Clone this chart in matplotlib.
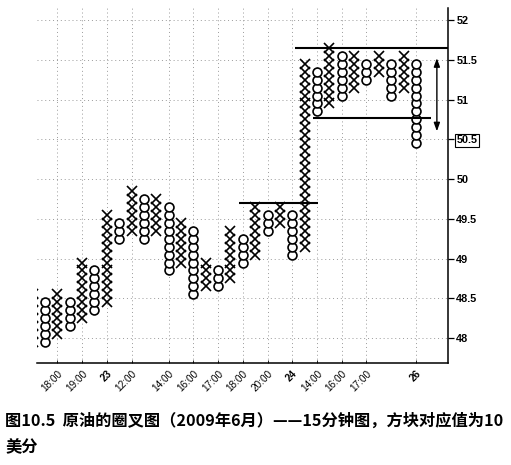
import numpy as np
import matplotlib
matplotlib.use("Agg")
import matplotlib.pyplot as plt

# ---- data (point & figure columns, box size 0.1) ----
col_types = ['X', 'O', 'X', 'O', 'X', 'O', 'X', 'O', 'X', 'O', 'X', 'O', 'X', 'O', 'X', 'O',
             'X', 'O', 'X', 'O', 'X', 'O', 'X', 'O', 'X', 'O', 'X', 'O', 'X', 'O', 'X', 'O']
col_low = [47.9, 47.9, 48.0, 48.1, 48.2, 48.3, 48.4, 49.2, 49.3, 49.2, 49.3, 48.8, 48.9, 48.5, 48.6, 48.6,
           48.7, 48.9, 49.0, 49.3, 49.4, 49.0, 49.1, 50.8, 50.9, 51.0, 51.1, 51.2, 51.3, 51.0, 51.1, 50.4]
col_high = [48.5, 48.4, 48.5, 48.4, 48.9, 48.8, 49.5, 49.4, 49.8, 49.7, 49.7, 49.6, 49.4, 49.3, 48.9, 48.8,
            49.3, 49.2, 49.6, 49.5, 49.6, 49.5, 51.4, 51.3, 51.6, 51.5, 51.5, 51.4, 51.5, 51.4, 51.5, 51.4]
box = 0.1
first_col = -1

tick_cols = [1, 3, 5, 7, 10, 12, 14, 16, 18, 20, 22, 24, 26, 30]
tick_labels = ['18:00', '19:00', '23', '12:00', '14:00', '16:00', '17:00', '18:00', '20:00',
               '24', '14:00', '16:00', '17:00', '26']
bold_labels = ['23', '24', '26']

y_ticks = [48, 48.5, 49, 49.5, 50, 50.5, 51, 51.5, 52]
y_labels = ['48', '48.5', '49', '49.5', '50', '50.5', '51', '51.5', '52']
boxed_label = '50.5'

# resistance / support lines: (price, x_start, x_end)
lines = [(51.65, 20.2, 32.6), (50.77, 21.65, 31.2), (49.70, 15.7, 22.06)]
arrow_x = 31.7
arrow_top, arrow_bottom = 51.52, 50.60

caption1 = "图10.5  原油的圈叉图（2009年6月）——15分钟图，方块对应值为10"
caption2 = "美分"

# ---- figure ----
W, H = 511, 465
fig = plt.figure(figsize=(W / 100, H / 100), dpi=100)
ax = fig.add_axes([37 / W, 1 - 363 / H, (448 - 37) / W, (363 - 8) / H])
ax.set_xlim(-0.65, 32.6)
ax.set_ylim(47.686, 52.151)

for i, (t, lo, hi) in enumerate(zip(col_types, col_low, col_high)):
    xi = first_col + i
    n = int(round((hi - lo) / box)) + 1
    ys = lo + box * np.arange(n) + box / 2
    xs = np.full(n, xi)
    if t == 'X':
        ax.plot(xs, ys, linestyle='none', marker='x', ms=6.8, mew=1.2, color='black',
                clip_on=True, zorder=3)
    else:
        ax.plot(xs, ys, linestyle='none', marker='o', ms=6.4, mew=1.2, mfc='white',
                mec='black', clip_on=True, zorder=3)

for (p, x0, x1) in lines:
    ax.plot([x0, x1], [p, p], color='black', lw=1.5, zorder=4, clip_on=False,
            solid_capstyle='butt')

ax.annotate('', xy=(arrow_x, arrow_top), xytext=(arrow_x, arrow_bottom),
            arrowprops=dict(arrowstyle='<|-|>,head_length=0.5,head_width=0.18',
                            color='black', lw=1.0, shrinkA=0, shrinkB=0), zorder=4)

# grid
for p in y_ticks:
    ax.axhline(p, color='#9a9a9a', lw=0.7, ls=(0, (1, 3)), zorder=1)
for c in tick_cols:
    ax.axvline(c, color='#9a9a9a', lw=0.7, ls=(0, (1, 3)), zorder=1)

# axes styling
for s in ['left', 'top']:
    ax.spines[s].set_visible(False)
for s in ['right', 'bottom']:
    ax.spines[s].set_linewidth(1.1)

ax.yaxis.tick_right()
ax.set_yticks(y_ticks)
ax.set_yticklabels(y_labels, fontsize=7.8, fontweight='bold', family='Liberation Sans')
ax.tick_params(axis='y', direction='out', length=4, width=0.9, pad=2)
for lab in ax.get_yticklabels():
    if lab.get_text() == boxed_label:
        lab.set_bbox(dict(boxstyle='square,pad=0.15', fc='white', ec='black', lw=0.8))

ax.set_xticks(tick_cols)
ax.set_xticklabels(tick_labels, rotation=45, ha='right', rotation_mode='anchor',
                   fontsize=7.2, family='Liberation Sans')
for lab in ax.get_xticklabels():
    if lab.get_text() in bold_labels:
        lab.set_fontweight('bold')
ax.tick_params(axis='x', direction='in', length=2, width=0.6, pad=4)

cap_font = ['Noto Sans CJK SC', 'DejaVu Sans']
fig.text(5 / W, 1 - 421 / H, caption1, fontsize=11.7, fontweight='bold', family=cap_font,
         va='center', ha='left')
fig.text(5 / W, 1 - 447 / H, caption2, fontsize=11.7, fontweight='bold', family=cap_font,
         va='center', ha='left')

fig.savefig('out.png', dpi=100)
